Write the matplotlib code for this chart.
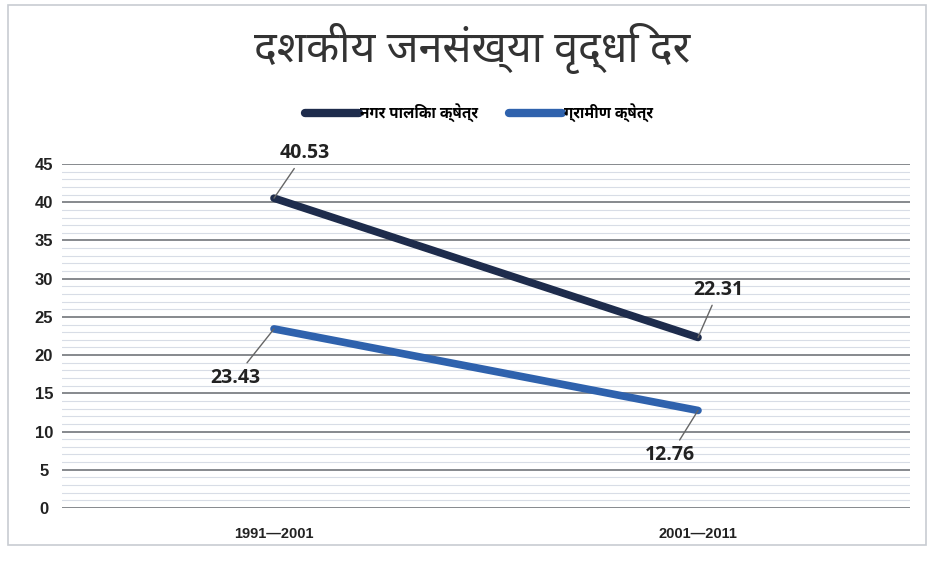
import matplotlib
matplotlib.use('Agg')
import matplotlib.pyplot as plt
from matplotlib.ticker import MultipleLocator

# data
periods = ['1991\u20142001', '2001\u20142011']
series_names = ['नगर पालिका क्षेत्र', 'ग्रामीण क्षेत्र']
urban = [40.53, 22.31]
rural = [23.43, 12.76]
y_ticks = [0, 5, 10, 15, 20, 25, 30, 35, 40, 45]

DEVA = ['Noto Sans Devanagari', 'Noto Sans Devanagari UI', 'DejaVu Sans']
DEVA_B = ['Noto Sans Devanagari UI', 'Noto Sans Devanagari', 'DejaVu Sans']
NUM = ['Open Sans', 'DejaVu Sans']
NARROW = ['Liberation Sans Narrow', 'Liberation Sans', 'DejaVu Sans']

C_URBAN = '#1e2c4c'
C_RURAL = '#2f62ad'

fig = plt.figure(figsize=(9.3, 5.62), dpi=100)
ax = fig.add_axes([62 / 930, 1 - 508 / 562, (910 - 62) / 930, (508 - 164) / 562])

# outer chart border
fig.patches.append(plt.Rectangle((8 / 930, 1 - 545 / 562), 918 / 930, 540 / 562,
                                 transform=fig.transFigure, fill=False,
                                 edgecolor='#c8ccd2', linewidth=1.2))

x = range(len(periods))
ax.plot(x, urban, color=C_URBAN, linewidth=5.5, solid_capstyle='round', label=series_names[0], zorder=3)
ax.plot(x, rural, color=C_RURAL, linewidth=5.5, solid_capstyle='round', label=series_names[1], zorder=3)

ax.set_xlim(-0.5, 1.5)
ax.set_ylim(0, 45)
ax.set_yticks(y_ticks)
ax.yaxis.set_minor_locator(MultipleLocator(1))
ax.grid(axis='y', which='major', color='#7d8085', linewidth=1.3)
ax.grid(axis='y', which='minor', color='#d8dde6', linewidth=0.8)
ax.set_axisbelow(True)
for s in ax.spines.values():
    s.set_visible(False)
ax.tick_params(axis='both', which='both', length=0)
ax.set_xticks(list(x))
ax.set_xticklabels(periods, family=NARROW, fontweight='bold', fontsize=10.5, color='#222222')
ax.tick_params(axis='x', pad=14)
ax.tick_params(axis='y', pad=13)
for t in ax.get_yticklabels():
    t.set_family(NARROW)
    t.set_fontweight('bold')
    t.set_fontsize(12)
    t.set_color('#222222')
    t.set_horizontalalignment('center')

# data labels with leader lines (offsets in points)
offsets_u = [(22, 25), (15, 27)]
offsets_r = [(-28, -28), (-20, -25)]
for i, v in enumerate(urban):
    ax.annotate(f'{v:.2f}', (i, v), xytext=offsets_u[i], textcoords='offset points',
                ha='center', va='bottom', fontsize=14, fontweight='bold', family=NUM,
                color='#222222',
                arrowprops=dict(arrowstyle='-', color='#666666', lw=1, shrinkA=2, shrinkB=0))
for i, v in enumerate(rural):
    ax.annotate(f'{v:.2f}', (i, v), xytext=offsets_r[i], textcoords='offset points',
                ha='center', va='top', fontsize=14, fontweight='bold', family=NUM,
                color='#222222',
                arrowprops=dict(arrowstyle='-', color='#666666', lw=1, shrinkA=2, shrinkB=0))

fig.text(0.508, 1 - 48 / 562, 'दशकीय जनसंख्या वृद्धि दर', ha='center', va='center',
         fontsize=31, family=DEVA, color='#333333')

leg = fig.legend(loc='center', bbox_to_anchor=(0.515, 1 - 113 / 562), ncol=2, frameon=False,
                 handlelength=3.5, handletextpad=0.1, columnspacing=2.0,
                 prop={'family': DEVA_B, 'weight': 'bold', 'size': 11})
for h in leg.get_lines():
    h.set_linewidth(6)

fig.savefig('out.png', dpi=100)
